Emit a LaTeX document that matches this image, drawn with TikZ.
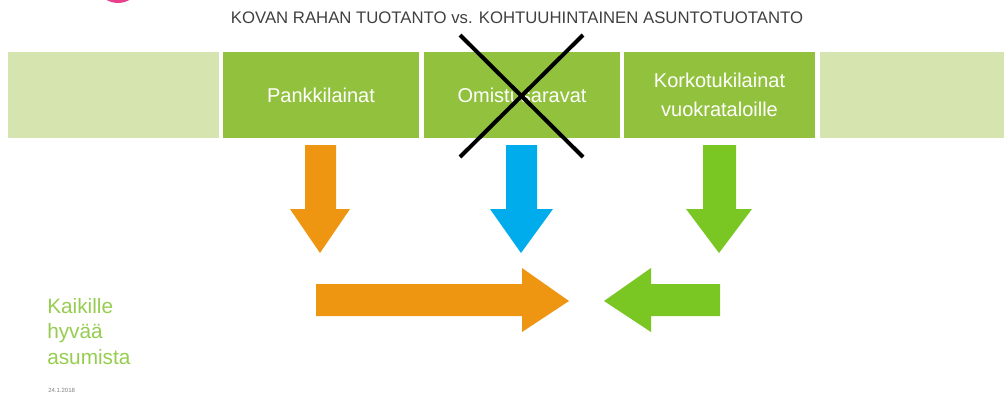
\documentclass[tikz,border=0pt]{standalone}
\usepackage{fontspec}
\setmainfont{Liberation Sans}
\usetikzlibrary{calc}

\definecolor{paleGreen}{RGB}{214,228,176}
\definecolor{boxGreen}{RGB}{146,193,62}
\definecolor{arrOrange}{RGB}{238,150,18}
\definecolor{arrBlue}{RGB}{0,172,235}
\definecolor{arrGreen}{RGB}{122,198,35}
\definecolor{txtGreen}{RGB}{150,205,80}
\definecolor{titleGray}{RGB}{64,64,64}
\definecolor{dotPink}{RGB}{232,64,140}

\begin{document}
\begin{tikzpicture}[x=0.75pt, y=-0.75pt,
		boxtext/.style={text=white, font=\fontsize{15}{21.5}\selectfont, align=center}]
		\useasboundingbox (0,0) rectangle (1004,394);

		% pink dot cut by the top edge
		\begin{scope}
			\clip (0,0) rectangle (1004,394);
			\fill[dotPink] (118,-14) ellipse (20 and 17);
		\end{scope}

		\node[text=titleGray, font=\fontsize{12.55}{14}\selectfont] (title) at (517,18) {KOVAN RAHAN TUOTANTO vs. KOHTUUHINTAINEN ASUNTOTUOTANTO};

		% row of boxes
		\path (8,52) coordinate (cursor);
		\fill[paleGreen] (cursor) rectangle ++(211,86);
		\fill[boxGreen] (223,52) rectangle node[boxtext] (pankki) {Pankkilainat} ++(196,86);
		\fill[boxGreen] (424,52) rectangle node[boxtext] (omist) {Omistusaravat} ++(196,86);
		\fill[boxGreen] (624,52) rectangle node[boxtext] (korko) {Korkotukilainat\\vuokrataloille} ++(191,86);
		\fill[paleGreen] (820,52) rectangle ++(184,86);

		% crossed out
		\draw[line width=3pt] (460,35) -- (583,157);
		\draw[line width=3pt] (583,35) -- (460,157);

		% arrows down
		\fill[arrOrange] (305,145) -- (336,145) -- (336,209) -- (350,209) -- (320,253) -- (290,209) -- (305,209) -- cycle;
		\fill[arrBlue] (506,145) -- (537,145) -- (537,209) -- (553,209) -- (521,253) -- (490,209) -- (506,209) -- cycle;
		\fill[arrGreen] (703,145) -- (736,145) -- (736,209) -- (752,209) -- (719,253) -- (686,209) -- (703,209) -- cycle;

		% arrows meeting
		\fill[arrOrange] (316,284) -- (522,284) -- (522,268) -- (569,301) -- (522,332) -- (522,316) -- (316,316) -- cycle;
		\fill[arrGreen] (720,284) -- (651,284) -- (651,268) -- (604,301) -- (651,332) -- (651,316) -- (720,316) -- cycle;

		\node[text=txtGreen, font=\fontsize{15.6}{19.2}\selectfont, align=left, anchor=north west, inner sep=0pt] (goal) at (47,298) {Kaikille\\hyvää\\asumista};
		\node[text=gray, font=\fontsize{4.5}{5}\selectfont, anchor=west, inner sep=0pt] (date) at (48,390) {24.1.2018};
\end{tikzpicture}
\end{document}
